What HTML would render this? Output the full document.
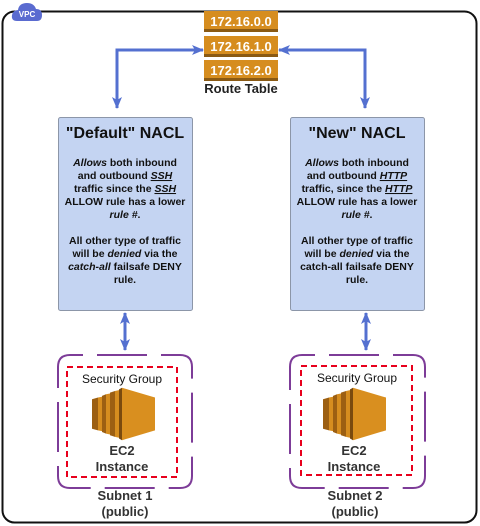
<!DOCTYPE html>
<html><head><meta charset="utf-8"><style>
html,body{margin:0;padding:0;background:#fff;}
svg{display:block;}
text{font-family:"Liberation Sans",Arial,sans-serif;}
</style></head><body>
<svg width="480" height="526" viewBox="0 0 480 526" xmlns="http://www.w3.org/2000/svg">
<defs>
<marker id="ah" markerWidth="12" markerHeight="12" refX="11" refY="6" orient="auto-start-reverse" markerUnits="userSpaceOnUse"><path d="M0,1 L12,6 L0,11 L3,6 Z" fill="#5470d0"/></marker>
<g id="ec2">
<polygon points="0,10 6,8 6,48 0,46" fill="#9c5f12"/>
<polygon points="6,8 10,7 10,49 6,48" fill="#d68d1f"/>
<polygon points="10,6 14,4 14,52 10,50" fill="#9c5f12"/>
<polygon points="14,4 18,3 18,53 14,52" fill="#d68d1f"/>
<polygon points="18,2 23,0 23,56 18,54" fill="#9c5f12"/>
<polygon points="23,0 27,-1 27,57 23,56" fill="#d68d1f"/>
<polygon points="27,-2 30,-4 30,60 27,58" fill="#7a4a0e"/>
<polygon points="30,-4 63,8 63,48 30,60" fill="#d98f1f"/>
</g>
</defs>
<rect x="2.5" y="11.5" width="474" height="511" rx="12" fill="none" stroke="#111" stroke-width="2"/>
<!-- VPC cloud -->
<path d="M17,21 Q11,21 12,15 Q13,10 18,10 Q19,3 27,3 Q34,3 36,9 Q42,9 42,15 Q42,21 37,21 Z" fill="#5a6bd0"/>
<text x="27" y="17" font-size="8" font-weight="bold" fill="#fff" text-anchor="middle">VPC</text>
<!-- route table -->
<g font-size="13" font-weight="bold" fill="#fff" text-anchor="middle">
<rect x="204" y="11" width="74" height="21" fill="#d68d1f"/><rect x="204" y="29" width="74" height="3" fill="#8a5a14"/>
<text x="241" y="26">172.16.0.0</text>
<rect x="204" y="36" width="74" height="21" fill="#d68d1f"/><rect x="204" y="54" width="74" height="3" fill="#8a5a14"/>
<text x="241" y="51">172.16.1.0</text>
<rect x="204" y="60" width="74" height="21" fill="#d68d1f"/><rect x="204" y="78" width="74" height="3" fill="#8a5a14"/>
<text x="241" y="75">172.16.2.0</text>
</g>
<text x="241" y="93" font-size="13" font-weight="bold" fill="#222" text-anchor="middle">Route Table</text>
<!-- arrows top -->
<path d="M117,108 V50 H203" fill="none" stroke="#5470d0" stroke-width="3" marker-end="url(#ah)" marker-start="url(#ah)"/>
<path d="M365,108 V50 H279" fill="none" stroke="#5470d0" stroke-width="3" marker-end="url(#ah)" marker-start="url(#ah)"/>
<!-- NACL boxes -->
<rect x="58.5" y="117.5" width="134" height="193" rx="2" fill="#c4d4f2" stroke="#8c96a8"/>
<rect x="290.5" y="117.5" width="134" height="193" rx="2" fill="#c4d4f2" stroke="#8c96a8"/>
<g text-anchor="middle" fill="#111" font-weight="bold">
<text x="125" y="138" font-size="16">"Default" NACL</text>
<g font-size="10.5">
<text x="125" y="166"><tspan font-style="italic">Allows</tspan> both inbound</text>
<text x="125" y="179">and outbound <tspan font-style="italic" text-decoration="underline">SSH</tspan></text>
<text x="125" y="192">traffic since the <tspan font-style="italic" text-decoration="underline">SSH</tspan></text>
<text x="125" y="205">ALLOW rule has a lower</text>
<text x="125" y="218"><tspan font-style="italic">rule #</tspan>.</text>
<text x="125" y="244">All other type of traffic</text>
<text x="125" y="257">will be <tspan font-style="italic">denied</tspan> via the</text>
<text x="125" y="270"><tspan font-style="italic">catch-all</tspan> failsafe DENY</text>
<text x="125" y="283">rule.</text>
</g>
<text x="357" y="138" font-size="16">"New" NACL</text>
<g font-size="10.5">
<text x="357" y="166"><tspan font-style="italic">Allows</tspan> both inbound</text>
<text x="357" y="179">and outbound <tspan font-style="italic" text-decoration="underline">HTTP</tspan></text>
<text x="357" y="192">traffic, since the <tspan font-style="italic" text-decoration="underline">HTTP</tspan></text>
<text x="357" y="205">ALLOW rule has a lower</text>
<text x="357" y="218"><tspan font-style="italic">rule #</tspan>.</text>
<text x="357" y="244">All other type of traffic</text>
<text x="357" y="257">will be <tspan font-style="italic">denied</tspan> via the</text>
<text x="357" y="270">catch-all failsafe DENY</text>
<text x="357" y="283">rule.</text>
</g>
</g>
<!-- vertical arrows -->
<line x1="125" y1="313" x2="125" y2="350" stroke="#5470d0" stroke-width="3" marker-end="url(#ah)" marker-start="url(#ah)"/>
<line x1="366" y1="313" x2="366" y2="350" stroke="#5470d0" stroke-width="3" marker-end="url(#ah)" marker-start="url(#ah)"/>
<!-- subnets -->
<path d="M70,355 H180 Q192,355 192,367 V476 Q192,488 180,488 H70 Q58,488 58,476 V367 Q58,355 70,355 Z" fill="none" stroke="#7d3c98" stroke-width="2" stroke-dasharray="50 14" stroke-dashoffset="37"/>
<path d="M302,355 H413 Q425,355 425,367 V476 Q425,488 413,488 H302 Q290,488 290,476 V367 Q290,355 302,355 Z" fill="none" stroke="#7d3c98" stroke-width="2" stroke-dasharray="50 14" stroke-dashoffset="37"/>
<rect x="67" y="367" width="110" height="110" fill="none" stroke="#e8001c" stroke-width="2" stroke-dasharray="6 4"/>
<rect x="301" y="366" width="111" height="109" fill="none" stroke="#e8001c" stroke-width="2" stroke-dasharray="6 4"/>
<g font-size="12" fill="#111" text-anchor="middle">
<text x="122" y="383">Security Group</text>
<text x="357" y="382">Security Group</text>
</g>
<use href="#ec2" transform="translate(92,391) scale(1,0.82)"/>
<use href="#ec2" transform="translate(323,391) scale(1,0.82)"/>
<g font-size="13" font-weight="bold" fill="#333" text-anchor="middle">
<text x="122" y="455">EC2</text>
<text x="122" y="471">Instance</text>
<text x="354" y="455">EC2</text>
<text x="354" y="471">Instance</text>
<text x="125" y="500">Subnet 1</text>
<text x="125" y="516">(public)</text>
<text x="355" y="500">Subnet 2</text>
<text x="355" y="516">(public)</text>
</g>
</svg>
</body></html>
